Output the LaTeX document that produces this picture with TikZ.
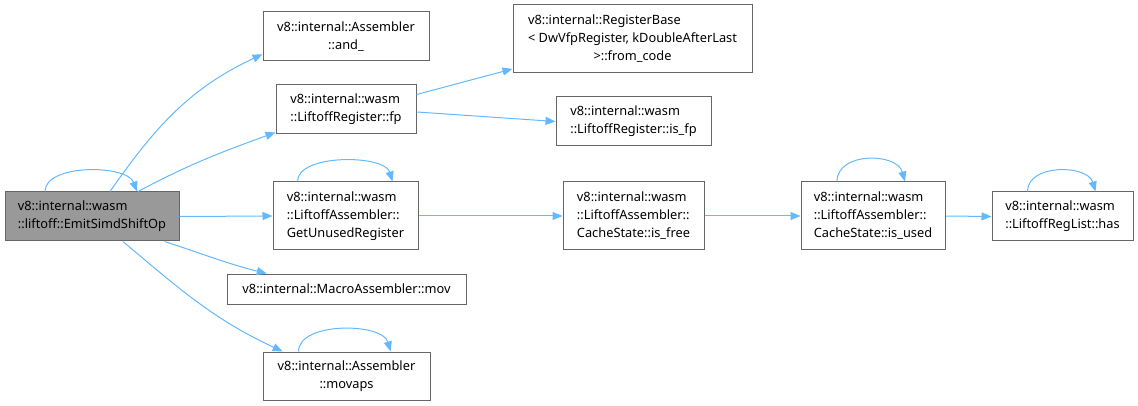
\documentclass[tikz,border=0pt]{standalone}
\usepackage{fontspec}
\setmainfont{Noto Sans}
\usetikzlibrary{arrows.meta}
\definecolor{edgeblue}{HTML}{63B8FF}
\definecolor{boxline}{HTML}{666666}
\definecolor{rootfill}{HTML}{999999}
\tikzset{
  fn/.style={draw=boxline, line width=1pt, fill=white, inner sep=0pt, align=left,
    font=\fontsize{12.8}{18}\selectfont},
  rootfn/.style={fn, fill=rootfill},
  call/.style={draw=edgeblue, line width=1pt, -{Triangle[length=10pt,width=8pt]}},
}
\begin{document}
\begin{tikzpicture}[x=1pt,y=1pt]
\useasboundingbox (0,0) rectangle (1138,-406);
% boxes
\node[rootfn, minimum width=174, minimum height=49] (emit) at (92,-216.5) {v8::internal::wasm\\::liftoff::EmitSimdShiftOp};
\node[fn, minimum width=166, minimum height=49, align=center] (and) at (346,-36.5) {v8::internal::Assembler\\::and\_};
\node[fn, minimum width=140, minimum height=49] (fp) at (346,-109.5) {v8::internal::wasm\\::LiftoffRegister::fp};
\node[fn, minimum width=239, minimum height=68] (regbase) at (632.5,-39) {\begin{tabular}{@{}l@{}}v8::internal::RegisterBase\\< DwVfpRegister, kDoubleAfterLast\\\multicolumn{1}{@{}c@{}}{>::from\_code}\end{tabular}};
\node[fn, minimum width=155, minimum height=49] (isfp) at (633.5,-121.5) {v8::internal::wasm\\::LiftoffRegister::is\_fp};
\node[fn, minimum width=145, minimum height=68] (gun) at (345.5,-216) {v8::internal::wasm\\::LiftoffAssembler::\\GetUnusedRegister};
\node[fn, minimum width=141, minimum height=68] (isfree) at (633.5,-216) {v8::internal::wasm\\::LiftoffAssembler::\\CacheState::is\_free};
\node[fn, minimum width=144, minimum height=68] (isused) at (873,-216) {v8::internal::wasm\\::LiftoffAssembler::\\CacheState::is\_used};
\node[fn, minimum width=141, minimum height=49] (has) at (1062.5,-216.5) {v8::internal::wasm\\::LiftoffRegList::has};
\node[fn, minimum width=239, minimum height=30] (mov) at (346.5,-289) {v8::internal::MacroAssembler::mov};
\node[fn, minimum width=167, minimum height=48, align=center] (movaps) at (346.5,-376) {v8::internal::Assembler\\::movaps};
% calls
\draw[call] ([xshift=-47]emit.north) .. controls +(0,28) and +(-10,27) .. ([xshift=45]emit.north);
\draw[call] ([xshift=18]emit.north) to[out=55,in=205] (and.192);
\draw[call] ([xshift=46]emit.north) to[out=28,in=200] (fp.198);
\draw[call] (emit.east) -- (gun.west);
\draw[call] (emit.-19) to[out=-18,in=166] (mov.169);
\draw[call] (emit.-39) to[out=-40,in=155] (movaps.159);
\draw[call] (fp.12) -- (regbase.194);
\draw[call] (fp.-2) -- (isfp.west);
\draw[call] ([xshift=-48]gun.north) .. controls +(0,28) and +(-8,27) .. ([xshift=47]gun.north);
\draw[call] (gun.east) -- (isfree.west);
\draw[call] (isfree.east) -- (isused.west);
\draw[call] ([xshift=-36]isused.north) .. controls +(0,30) and +(-8,29) .. ([xshift=32]isused.north);
\draw[call] (isused.east) -- (has.west);
\draw[call] ([xshift=-35]has.north) .. controls +(0,28) and +(-8,27) .. ([xshift=33]has.north);
\draw[call] ([xshift=-48]movaps.north) .. controls +(0,30) and +(-8,29) .. ([xshift=44]movaps.north);
\end{tikzpicture}
\end{document}
